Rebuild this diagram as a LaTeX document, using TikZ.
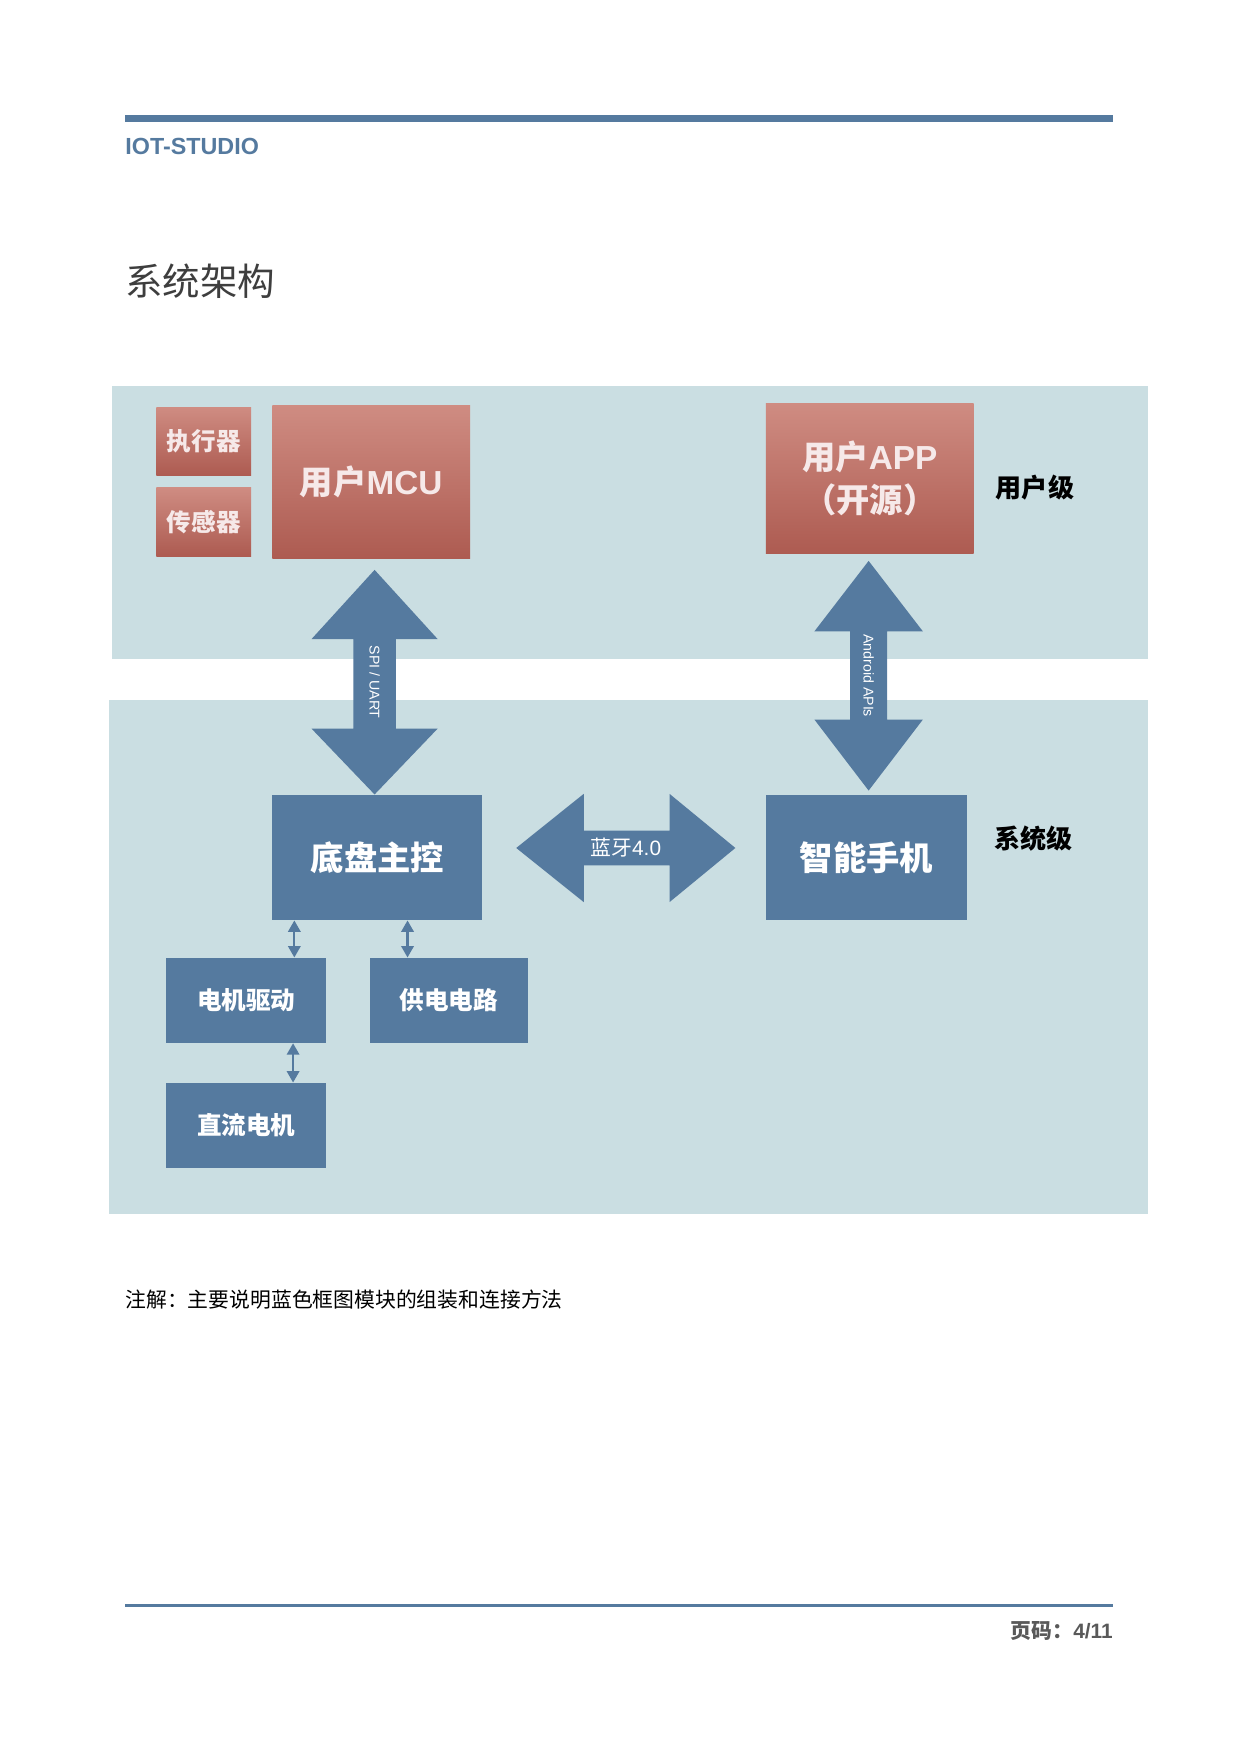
\documentclass[tikz,border=0pt]{standalone}
\usepackage{fontspec}
\setmainfont{Liberation Sans}
\newfontfamily\cjk{Noto Sans CJK SC}
\usetikzlibrary{calc,arrows.meta}
\definecolor{panelblue}{HTML}{CADEE2}
\definecolor{boxblue}{HTML}{557A9F}
\definecolor{redtop}{HTML}{CF8C82}
\definecolor{redbot}{HTML}{AD5B51}
\definecolor{pinkwhite}{HTML}{F6E9E9}
\definecolor{titlegray}{HTML}{3E3E3E}
\definecolor{pagegray}{HTML}{595959}
\tikzset{
  redbox/.style={top color=redtop, bottom color=redbot, text=pinkwhite, inner sep=0pt},
  bluebox/.style={fill=boxblue, text=white, inner sep=0pt},
  bigtext/.style={font=\cjk\bfseries\fontsize{16}{21}\selectfont},
  smalltext/.style={font=\cjk\bfseries\fontsize{11.8}{14}\selectfont},
  bigarrow/.style={fill=boxblue},
  smallarrow/.style={draw=boxblue, line width=1pt, {Triangle[width=6pt,length=5.5pt]}-{Triangle[width=6pt,length=5.5pt]}},
  lvl/.style={font=\cjk\bfseries\fontsize{12.5}{14}\selectfont, inner sep=0pt}
}
\begin{document}
\begin{tikzpicture}[x=0.5362pt, y=-0.5362pt]
\useasboundingbox (0,0) rectangle (1110,1571);
\fill[boxblue] (112,103) rectangle (997,109);
\node[anchor=base west, text=boxblue, font=\bfseries\fontsize{11.2}{13}\selectfont, inner sep=0pt] (head) at (112,138) {IOT-STUDIO};
\node[anchor=west, text=titlegray, font=\cjk\fontsize{18}{20}\selectfont, inner sep=0pt] (title) at (112,252) {系统架构};
\fill[panelblue] (100,346) rectangle (1028,590);
\fill[panelblue] (98,627) rectangle (1028,1087);
\node[redbox, smalltext, minimum width=45.6pt, minimum height=32.7pt] (act) at (182.5,395.5) {执行器};
\node[redbox, smalltext, minimum width=45.6pt, minimum height=32.7pt] (sen) at (182.5,467.5) {传感器};
\node[redbox, bigtext, minimum width=94.9pt, minimum height=73.5pt] (mcu) at (332.5,431.5) {用户{\rmfamily MCU}};
\node[redbox, bigtext, minimum width=99.7pt, minimum height=72.4pt, align=center] (app) at (779,428.5) {用户{\rmfamily APP}\\（开源）};
\node[bluebox, bigtext, minimum width=100.8pt, minimum height=60.1pt] (chassis) at (338,768) {底盘主控};
\node[bluebox, bigtext, minimum width=96.5pt, minimum height=60.1pt] (phone) at (776,768) {智能手机};
\node[bluebox, smalltext, minimum width=76.7pt, minimum height=40.8pt] (drv) at (220.5,896) {电机驱动};
\node[bluebox, smalltext, minimum width=76.1pt, minimum height=40.8pt] (pwr) at (402,896) {供电电路};
\node[bluebox, smalltext, minimum width=76.7pt, minimum height=40.8pt] (dc) at (220.5,1008) {直流电机};
\node[lvl] (ulvl) at (927,437) {用户级};
\node[lvl] (slvl) at (926,751) {系统级};
\coordinate (spiT) at ($(mcu.south)+(3,10)$);
\coordinate (spiB) at ($(chassis.north)+(-2.5,0)$);
\fill[bigarrow] (spiT) -- ($(spiT)+(56.5,62)$) -- ($(spiT)+(19,62)$) -- ($(spiB)+(19,-59)$) -- ($(spiB)+(56.5,-59)$) -- (spiB) -- ($(spiB)+(-56.5,-59)$) -- ($(spiB)+(-19,-59)$) -- ($(spiT)+(-19,62)$) -- ($(spiT)+(-56.5,62)$) -- cycle;
\node[rotate=-90, text=white, font=\fontsize{6.8}{8}\selectfont] (spi) at ($(spiT)!0.5!(spiB)$) {SPI / UART};
\coordinate (apiT) at ($(app.south)+(-1,6)$);
\coordinate (apiB) at ($(phone.north)+(2,-3.5)$);
\fill[bigarrow] (apiT) -- ($(apiT)+(48.5,63)$) -- ($(apiT)+(16.5,63)$) -- ($(apiB)+(16.5,-63.5)$) -- ($(apiB)+(48.5,-63.5)$) -- (apiB) -- ($(apiB)+(-48.5,-63.5)$) -- ($(apiB)+(-16.5,-63.5)$) -- ($(apiT)+(-16.5,63)$) -- ($(apiT)+(-48.5,63)$) -- cycle;
\node[rotate=-90, text=white, font=\fontsize{6.8}{8}\selectfont] (api) at ($(apiT)!0.5!(apiB)$) {Android APIs};
\coordinate (btL) at ($(chassis.east)+(30,-8.5)$);
\coordinate (btR) at ($(phone.west)+(-27,-8.5)$);
\fill[bigarrow] (btL) -- ($(btL)+(60.5,-48.5)$) -- ($(btL)+(60.5,-15.5)$) -- ($(btR)+(-59,-15.5)$) -- ($(btR)+(-59,-48.5)$) -- (btR) -- ($(btR)+(-59,48.5)$) -- ($(btR)+(-59,15.5)$) -- ($(btL)+(60.5,15.5)$) -- ($(btL)+(60.5,48.5)$) -- cycle;
\node[text=white, font=\cjk\fontsize{10}{12}\selectfont] (bt) at ($(btL)!0.5!(btR)$) {蓝牙{\rmfamily 4.0}};
\draw[smallarrow] ($(chassis.south west)+(20,0)$) coordinate (a) -- (a |- drv.north);
\draw[smallarrow] ($(chassis.south)+(27,0)$) coordinate (b) -- (b |- pwr.north);
\draw[smallarrow] ($(drv.south)+(42,0)$) coordinate (c) -- (c |- dc.north);
\node[anchor=west, font=\cjk\fontsize{10}{12}\selectfont, inner sep=0pt] (note) at (112,1164) {注解：主要说明蓝色框图模块的组装和连接方法};
\fill[boxblue] (112,1437) rectangle (997,1439);
\node[anchor=east, text=pagegray, font=\cjk\bfseries\fontsize{10}{12}\selectfont, inner sep=0pt] (page) at (997,1461) {页码：{\rmfamily 4/11}};
\end{tikzpicture}
\end{document}
